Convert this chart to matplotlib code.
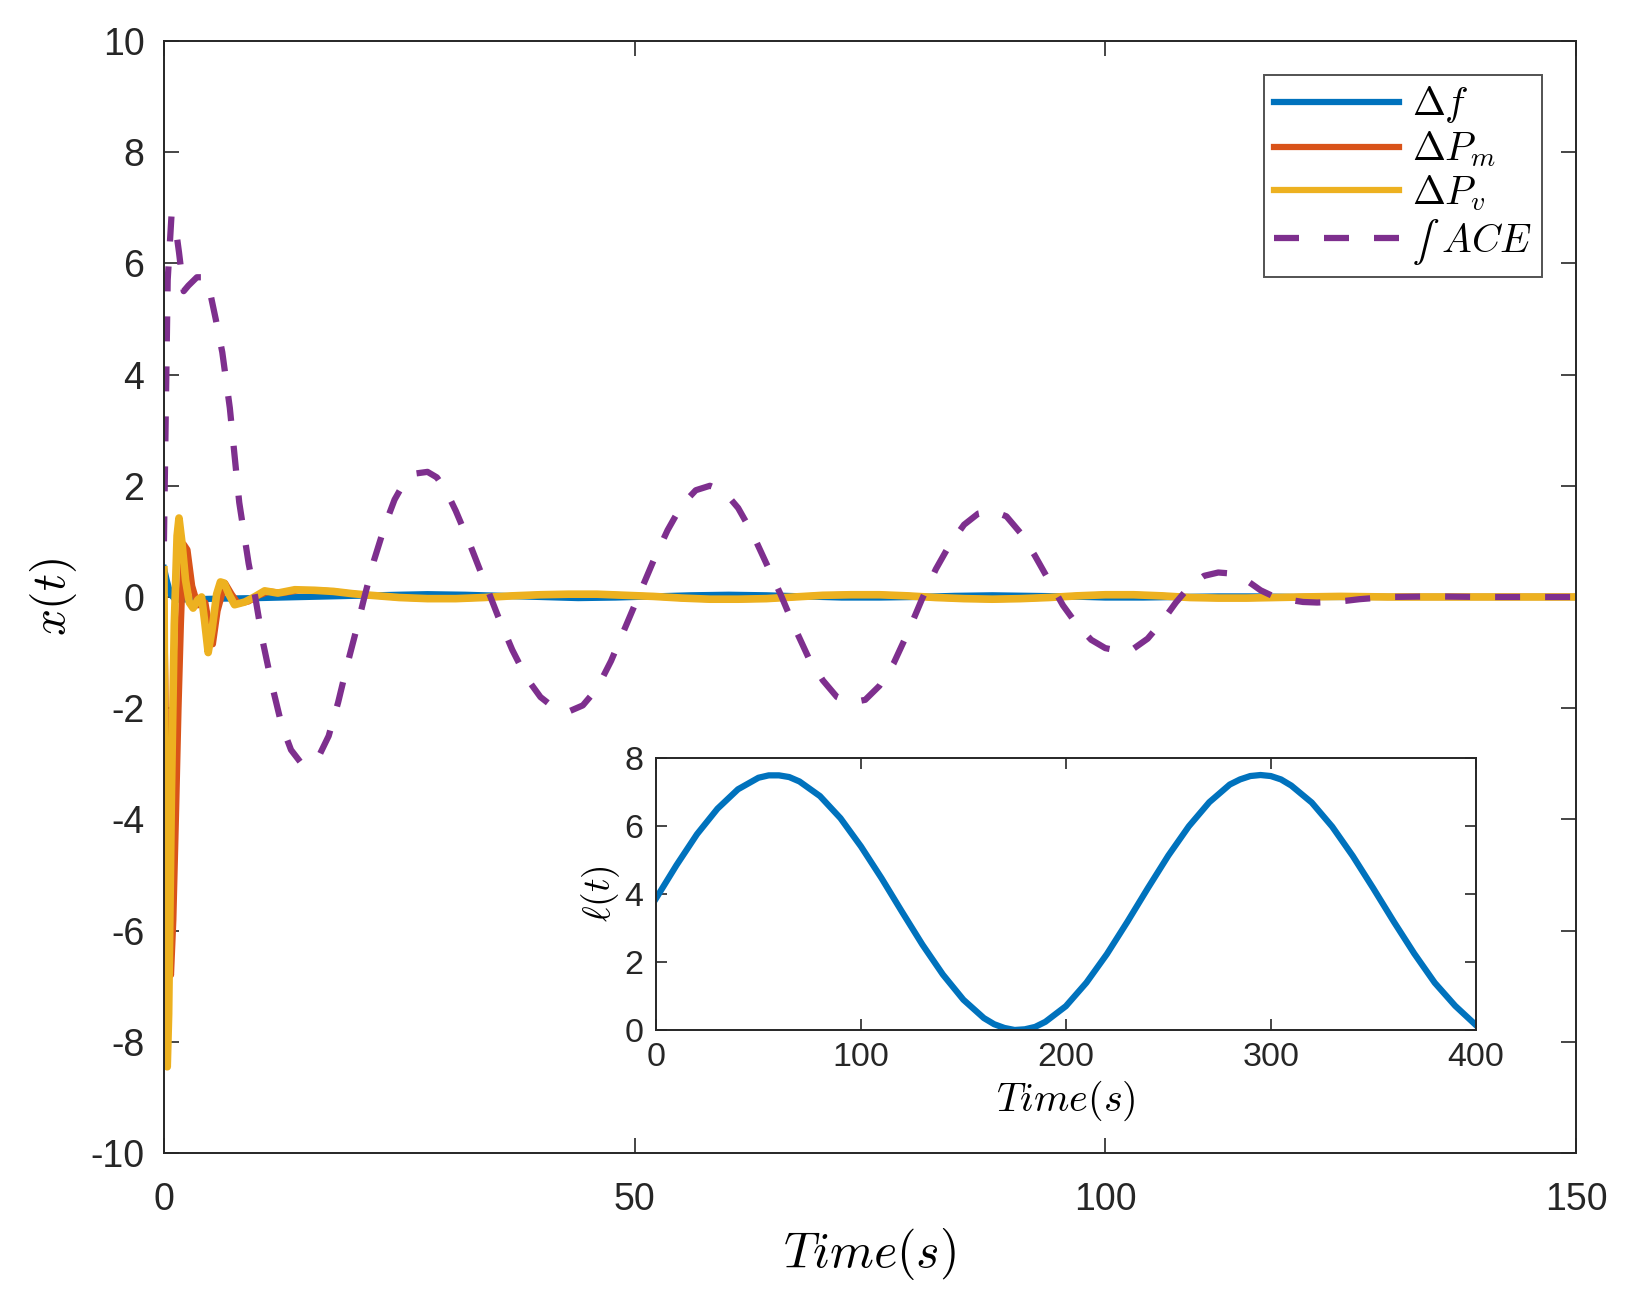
import matplotlib
matplotlib.use("Agg")
import matplotlib.pyplot as plt

plt.rcParams['font.family'] = ['Liberation Sans', 'DejaVu Sans']
plt.rcParams['mathtext.fontset'] = 'cm'
plt.rcParams['axes.unicode_minus'] = False

# MATLAB default colours
C_BLUE = '#0072BD'
C_ORANGE = '#D95319'
C_YELLOW = '#EDB120'
C_PURPLE = '#7E2F8E'

# --- main plot data ---
f_t = [0, 0.3, 0.7, 1.2, 3, 6, 10, 15, 20, 25, 28, 32, 36, 40, 44, 48, 52, 56, 60,
       64, 68, 72, 76, 80, 84, 88, 92, 96, 100, 104, 108, 112, 116, 120, 130, 150]
f_v = [0.52, 0.3, 0.05, -0.05, -0.04, -0.03, -0.02, 0.0, 0.02, 0.04, 0.05, 0.04, 0.02,
       0.0, -0.02, -0.01, 0.01, 0.03, 0.04, 0.03, 0.01, -0.01, -0.01, 0.0, 0.02, 0.03,
       0.02, 0.01, -0.01, -0.01, 0.0, 0.01, 0.01, 0.0, 0.0, 0.0]

pm_t = [0, 0.15, 0.35, 0.55, 0.75, 1.0, 1.3, 1.55, 1.8, 2.1, 2.5, 3.0, 3.6, 4.4, 4.8,
        5.2, 5.7, 6.5, 7.2, 7.9, 9.0, 10.0, 11.2, 12.6, 14.3, 16.5, 18, 20, 22, 25, 28,
        31, 34, 37, 40, 43, 46, 49, 52, 55, 58, 61, 64, 67, 70, 73, 76, 79, 82, 85, 88,
        91, 94, 97, 100, 103, 106, 109, 112, 115, 118, 121, 125, 130, 150]
pm_v = [0.0, -1.5, -4.5, -6.5, -6.8, -5.8, -3.8, -2.0, -0.5, 0.95, 0.85, 0.2, -0.15,
        -0.1, -0.5, -0.85, -0.25, 0.25, 0.05, -0.12, -0.08, 0.02, 0.1, 0.07, 0.12, 0.12,
        0.1, 0.06, 0.03, -0.01, -0.03, -0.03, -0.01, 0.02, 0.04, 0.05, 0.05, 0.03, 0.01,
        -0.02, -0.04, -0.04, -0.03, 0.0, 0.03, 0.04, 0.04, 0.02, -0.01, -0.03, -0.04,
        -0.03, -0.01, 0.02, 0.04, 0.04, 0.02, -0.01, -0.02, -0.02, -0.01, 0.0, 0.01,
        0.0, 0.0]

pv_t = [0, 0.1, 0.25, 0.35, 0.5, 0.8, 1.1, 1.4, 1.6, 1.9, 2.3, 2.7, 3.1, 3.6, 4.0,
        4.3, 4.7, 5.1, 5.6, 6.0, 6.4, 6.9, 7.5, 8.6, 9.6, 10.7, 12.1, 13.9, 16, 18, 20,
        22, 25, 28, 31, 34, 37, 40, 43, 46, 49, 52, 55, 58, 61, 64, 67, 70, 73, 76, 79,
        82, 85, 88, 91, 94, 97, 100, 103, 106, 109, 112, 115, 118, 121, 125, 130, 150]
pv_v = [0.49, -3.0, -8.0, -8.45, -7.5, -3.5, -0.5, 1.1, 1.42, 1.0, 0.3, -0.1, -0.2,
        -0.05, 0.0, -0.4, -1.0, -0.6, 0.05, 0.27, 0.25, 0.05, -0.14, -0.09, 0.0, 0.11,
        0.07, 0.13, 0.12, 0.1, 0.06, 0.03, -0.01, -0.03, -0.03, -0.01, 0.02, 0.04, 0.05,
        0.05, 0.03, 0.01, -0.02, -0.04, -0.04, -0.03, 0.0, 0.03, 0.04, 0.04, 0.02, -0.01,
        -0.03, -0.04, -0.03, -0.01, 0.02, 0.04, 0.04, 0.02, -0.01, -0.02, -0.02, -0.01,
        0.0, 0.01, 0.0, 0.0]

ace_t = [0, 0.4, 0.8, 1.2, 1.6, 2.1, 2.6, 3.5, 4.3, 5.0, 5.5, 6.2, 7.0, 8.0, 9.0, 9.7,
         10.5, 11.5, 12.5, 13.5, 14.5, 15.5, 16.5, 17.5, 18.5, 19.5, 20.5, 21.3, 22.3,
         23.5, 24.5, 25.5, 26.7, 28, 29, 30, 31, 32.5, 34, 35.5, 37, 38.5, 40, 41.5, 43,
         44.5, 46, 47.5, 49, 50.5, 52, 53.5, 55, 56.5, 58, 59.5, 61, 62.5, 64, 65.5, 67,
         68.5, 70, 71.5, 73, 74.5, 76, 77.5, 79, 80.5, 82, 83.5, 85, 86.5, 88, 89.5, 91,
         92.5, 94, 95.5, 97, 98.5, 100, 101.5, 103, 104.5, 106, 107.5, 109, 110.5, 112,
         113.5, 115, 116.5, 118, 119.5, 121, 122.5, 124, 125.5, 127, 128.5, 130, 135,
         140, 145, 150]
ace_v = [1.0, 5.7, 6.85, 6.7, 6.2, 5.5, 5.6, 5.75, 5.75, 5.4, 5.0, 4.4, 3.4, 1.7, 0.6,
         0.0, -0.8, -1.6, -2.3, -2.75, -2.97, -3.0, -2.85, -2.5, -1.9, -1.2, -0.55, 0.0,
         0.65, 1.3, 1.75, 2.05, 2.22, 2.25, 2.15, 1.9, 1.55, 0.95, 0.3, -0.35, -0.95,
         -1.45, -1.8, -2.0, -2.06, -1.95, -1.65, -1.15, -0.55, 0.05, 0.65, 1.2, 1.65,
         1.92, 2.0, 1.9, 1.6, 1.15, 0.6, 0.05, -0.55, -1.1, -1.5, -1.8, -1.9, -1.85, -1.6,
         -1.2, -0.65, -0.05, 0.5, 0.95, 1.3, 1.5, 1.55, 1.45, 1.15, 0.75, 0.3, -0.15,
         -0.5, -0.77, -0.92, -0.97, -0.93, -0.75, -0.45, -0.1, 0.2, 0.38, 0.44, 0.42,
         0.3, 0.12, 0.0, -0.05, -0.09, -0.1, -0.09, -0.07, -0.04, -0.02, 0.0, 0.01, 0.0,
         0.0, 0.0]

legend_labels = [r'$\Delta f$', r'$\Delta P_m$', r'$\Delta P_v$', '$\u222b\\ ACE$']

# --- inset data: load l(t) ---
load_t = [0, 10, 20, 30, 40, 50, 55, 60, 65, 70, 80, 90, 100, 110, 120, 130, 140, 150,
          160, 165, 170, 175, 180, 185, 190, 200, 210, 220, 230, 240, 250, 260, 270,
          280, 285, 290, 295, 300, 305, 310, 320, 330, 340, 350, 360, 370, 380, 390, 400]
load_v = [3.87, 4.85, 5.76, 6.51, 7.08, 7.42, 7.49, 7.49, 7.44, 7.31, 6.88, 6.23, 5.40,
          4.47, 3.48, 2.51, 1.63, 0.89, 0.35, 0.17, 0.06, 0.0, 0.02, 0.09, 0.24, 0.70,
          1.39, 2.23, 3.18, 4.17, 5.13, 5.99, 6.70, 7.22, 7.37, 7.47, 7.50, 7.47, 7.37,
          7.19, 6.69, 5.98, 5.12, 4.17, 3.19, 2.25, 1.39, 0.71, 0.15]

fig = plt.figure(figsize=(16.36, 12.92), dpi=100)
ax = fig.add_axes([0.1002, 0.1076, 0.8631, 0.8607])

lw = 4.5
ax.plot(f_t, f_v, color=C_BLUE, lw=lw, label=legend_labels[0])
ax.plot(pm_t, pm_v, color=C_ORANGE, lw=lw, label=legend_labels[1])
ax.plot(pv_t, pv_v, color=C_YELLOW, lw=5.5, label=legend_labels[2])
ax.plot(ace_t, ace_v, color=C_PURPLE, lw=lw, ls=(0, (4.0, 4.0)), label=legend_labels[3])

ax.set_xlim(0, 150)
ax.set_ylim(-10, 10)
ax.set_xticks([0, 50, 100, 150])
ax.set_yticks(range(-10, 11, 2))
ax.tick_params(direction='in', length=11, width=1.2, top=True, right=True,
               labelsize=27, colors='#262626', pad=14)
ax.tick_params(axis='x', pad=21)
for s in ax.spines.values():
    s.set_linewidth(1.4)
    s.set_color('#262626')
ax.set_xlabel(r'$Time(s)$', fontsize=36, labelpad=6)
ax.set_ylabel(r'$x(t)$', fontsize=34, labelpad=8)

leg = ax.legend(loc='upper right', fontsize=28.5, handlelength=3.15, frameon=True,
                fancybox=False, edgecolor='#262626', borderaxespad=0.85,
                borderpad=0.25, labelspacing=0.1, handletextpad=0.35)
leg.get_frame().set_linewidth(1.4)
for line in leg.get_lines():
    line.set_linewidth(4.5)

# inset
ins = fig.add_axes([0.401, 0.2028, 0.5010, 0.2105])
ins.plot(load_t, load_v, color=C_BLUE, lw=lw)
ins.set_xlim(0, 400)
ins.set_ylim(0, 8)
ins.set_xticks(range(0, 401, 100))
ins.set_yticks(range(0, 9, 2))
ins.tick_params(direction='in', length=8, width=1.2, top=True, right=True,
                labelsize=24.5, colors='#262626', pad=9)
for s in ins.spines.values():
    s.set_linewidth(1.4)
    s.set_color('#262626')
ins.set_xlabel(r'$Time(s)$', fontsize=29, labelpad=4)
ins.set_ylabel(r'$\ell(t)$', fontsize=27, labelpad=2)

fig.savefig('out.png', dpi=100)
